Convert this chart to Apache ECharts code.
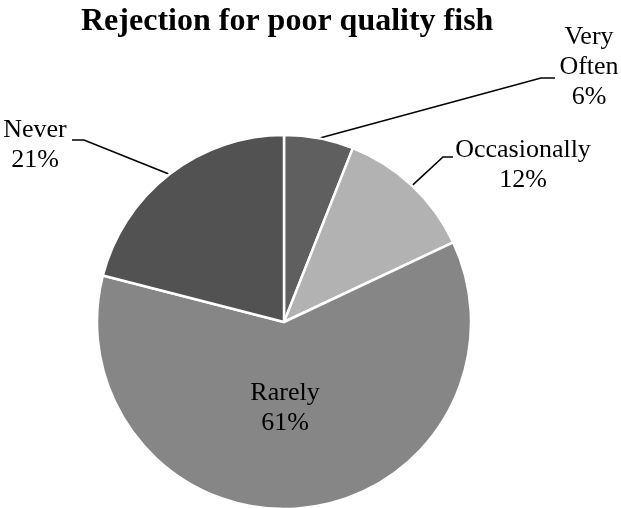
<!DOCTYPE html>
<html>
<head>
<meta charset="utf-8">
<script src="https://cdn.jsdelivr.net/npm/echarts@6/dist/echarts.min.js"></script>
<style>html,body{margin:0;padding:0;background:#fff}#c{width:621px;height:508px}</style>
</head>
<body>
<div id="c"></div>
<script>
var categories = ['Very Often', 'Occasionally', 'Rarely', 'Never'];
var values = [6, 12, 61, 21];
var colors = ['#5f5f5f', '#b2b2b2', '#868686', '#525252'];

// label block centers and leader-line elbows/ends (layout only)
var labelPos = [
  { x: 589, y: 67, elbow: [541, 78], end: [555, 78] },
  { x: 523, y: 165, elbow: [443, 157], end: [453, 157] },
  { x: 285, y: 408 },
  { x: 35, y: 145, elbow: [84, 140], end: [72, 140] }
];

var chart = echarts.init(document.getElementById('c'), null, { renderer: 'canvas' });
var data = categories.map(function (n, i) {
  var item = { name: n, value: values[i], itemStyle: { color: colors[i] } };
  if (i === 2) { item.labelLine = { show: false }; item.label = { position: 'inside' }; }
  return item;
});
chart.setOption({
  animation: false,
  title: {
    text: 'Rejection for poor quality fish',
    left: 76, top: 1,
    textStyle: { fontFamily: 'Liberation Serif', fontWeight: 'bold', fontSize: 32, color: '#000' }
  },
  series: [{
    type: 'pie',
    center: [284, 322],
    radius: 187,
    startAngle: 90,
    avoidLabelOverlap: false,
    data: data,
    itemStyle: { borderColor: '#fff', borderWidth: 2.5 },
    label: {
      show: true,
      formatter: function (p) { return p.name.replace('Very ', 'Very\n') + '\n' + p.value + '%'; },
      fontFamily: 'Liberation Serif', fontSize: 26, lineHeight: 30, color: '#000', align: 'center'
    },
    labelLine: { show: true, length: 20, length2: 10, lineStyle: { color: '#000', width: 1.6 } },
    labelLayout: function (params) {
      var lp = labelPos[params.dataIndex];
      var res = { x: lp.x, y: lp.y, align: 'center', verticalAlign: 'middle' };
      if (lp.elbow && params.labelLinePoints) {
        res.labelLinePoints = [params.labelLinePoints[0], lp.elbow, lp.end];
      }
      return res;
    }
  }]
});
</script>
</body>
</html>
